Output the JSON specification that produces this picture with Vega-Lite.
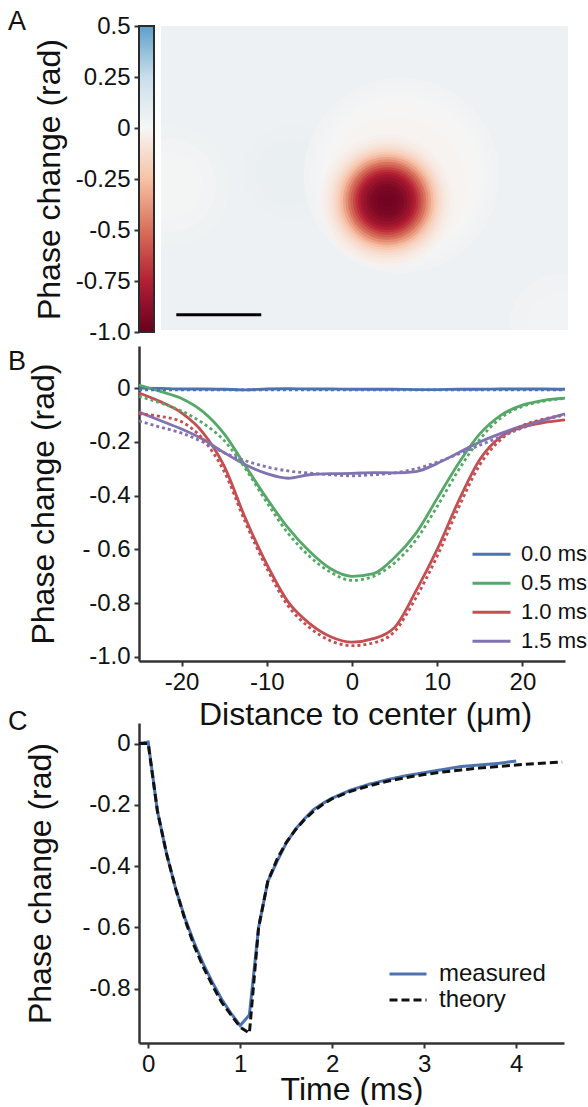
{
  "$schema": "https://vega.github.io/schema/vega-lite/v6.json",
  "background": "white",
  "padding": {"left": 8, "top": 8, "right": 2, "bottom": 0},
  "config": {
    "font": "Liberation Sans",
    "view": {"stroke": null},
    "axis": {"domainColor": "#333333", "domainWidth": 2.5, "tickColor": "#333333", "tickWidth": 2, "tickSize": 5, "labelFontSize": 24, "labelColor": "#111111", "titleFontSize": 32, "titleFontWeight": "normal", "titleColor": "#111111", "grid": false, "labelOverlap": false, "labelPadding": 4},
    "title": {"fontSize": 27, "fontWeight": "normal", "anchor": "start", "frame": "group", "baseline": "alphabetic", "color": "#111111"},
    "legend": {"labelColor": "#111111"}
  },
  "resolve": {"scale": {"color": "independent", "size": "independent", "strokeDash": "independent"}, "legend": {"color": "independent", "strokeDash": "independent"}},
  "datasets": {
    "b": [
      {"x": -25, "s": "0.0 ms", "m": 0, "t": -0.006}, {"x": -22.5, "s": "0.0 ms", "m": -0.001, "t": -0.006}, {"x": -20, "s": "0.0 ms", "m": -0.003, "t": -0.006}, {"x": -17.5, "s": "0.0 ms", "m": -0.003, "t": -0.006}, {"x": -15, "s": "0.0 ms", "m": -0.004, "t": -0.006}, {"x": -12.5, "s": "0.0 ms", "m": -0.006, "t": -0.006}, {"x": -10, "s": "0.0 ms", "m": -0.003, "t": -0.006}, {"x": -7.5, "s": "0.0 ms", "m": -0.002, "t": -0.006}, {"x": -5, "s": "0.0 ms", "m": -0.003, "t": -0.006}, {"x": -2.5, "s": "0.0 ms", "m": -0.003, "t": -0.006}, {"x": 0, "s": "0.0 ms", "m": -0.004, "t": -0.006}, {"x": 2.5, "s": "0.0 ms", "m": -0.004, "t": -0.006}, {"x": 5, "s": "0.0 ms", "m": -0.004, "t": -0.006}, {"x": 7.5, "s": "0.0 ms", "m": -0.005, "t": -0.006}, {"x": 10, "s": "0.0 ms", "m": -0.005, "t": -0.006}, {"x": 12.5, "s": "0.0 ms", "m": -0.004, "t": -0.006}, {"x": 15, "s": "0.0 ms", "m": -0.004, "t": -0.006}, {"x": 17.5, "s": "0.0 ms", "m": -0.003, "t": -0.006}, {"x": 20, "s": "0.0 ms", "m": -0.003, "t": -0.006}, {"x": 22.5, "s": "0.0 ms", "m": -0.003, "t": -0.006}, {"x": 25, "s": "0.0 ms", "m": -0.004, "t": -0.006},
      {"x": -25, "s": "0.5 ms", "m": 0.012, "t": -0.03}, {"x": -22.5, "s": "0.5 ms", "m": -0.012, "t": -0.055}, {"x": -20, "s": "0.5 ms", "m": -0.038, "t": -0.085}, {"x": -17.5, "s": "0.5 ms", "m": -0.087, "t": -0.13}, {"x": -15, "s": "0.5 ms", "m": -0.17, "t": -0.195}, {"x": -12.5, "s": "0.5 ms", "m": -0.29, "t": -0.3}, {"x": -10, "s": "0.5 ms", "m": -0.41, "t": -0.425}, {"x": -7.5, "s": "0.5 ms", "m": -0.52, "t": -0.54}, {"x": -5, "s": "0.5 ms", "m": -0.607, "t": -0.625}, {"x": -2.5, "s": "0.5 ms", "m": -0.672, "t": -0.685}, {"x": 0, "s": "0.5 ms", "m": -0.7, "t": -0.715}, {"x": 2.5, "s": "0.5 ms", "m": -0.69, "t": -0.7}, {"x": 5, "s": "0.5 ms", "m": -0.63, "t": -0.65}, {"x": 7.5, "s": "0.5 ms", "m": -0.54, "t": -0.565}, {"x": 10, "s": "0.5 ms", "m": -0.41, "t": -0.44}, {"x": 12.5, "s": "0.5 ms", "m": -0.28, "t": -0.305}, {"x": 15, "s": "0.5 ms", "m": -0.17, "t": -0.19}, {"x": 17.5, "s": "0.5 ms", "m": -0.1, "t": -0.11}, {"x": 20, "s": "0.5 ms", "m": -0.063, "t": -0.068}, {"x": 22.5, "s": "0.5 ms", "m": -0.045, "t": -0.048}, {"x": 25, "s": "0.5 ms", "m": -0.037, "t": -0.038},
      {"x": -25, "s": "1.0 ms", "m": -0.018, "t": -0.095}, {"x": -22.5, "s": "1.0 ms", "m": -0.05, "t": -0.105}, {"x": -20, "s": "1.0 ms", "m": -0.092, "t": -0.125}, {"x": -17.5, "s": "1.0 ms", "m": -0.165, "t": -0.19}, {"x": -15, "s": "1.0 ms", "m": -0.29, "t": -0.31}, {"x": -12.5, "s": "1.0 ms", "m": -0.485, "t": -0.5}, {"x": -10, "s": "1.0 ms", "m": -0.655, "t": -0.67}, {"x": -7.5, "s": "1.0 ms", "m": -0.795, "t": -0.81}, {"x": -5, "s": "1.0 ms", "m": -0.875, "t": -0.89}, {"x": -2.5, "s": "1.0 ms", "m": -0.925, "t": -0.94}, {"x": 0, "s": "1.0 ms", "m": -0.945, "t": -0.958}, {"x": 2.5, "s": "1.0 ms", "m": -0.932, "t": -0.948}, {"x": 5, "s": "1.0 ms", "m": -0.89, "t": -0.905}, {"x": 7.5, "s": "1.0 ms", "m": -0.755, "t": -0.78}, {"x": 10, "s": "1.0 ms", "m": -0.6, "t": -0.625}, {"x": 12.5, "s": "1.0 ms", "m": -0.42, "t": -0.445}, {"x": 15, "s": "1.0 ms", "m": -0.265, "t": -0.285}, {"x": 17.5, "s": "1.0 ms", "m": -0.18, "t": -0.19}, {"x": 20, "s": "1.0 ms", "m": -0.145, "t": -0.14}, {"x": 22.5, "s": "1.0 ms", "m": -0.128, "t": -0.115}, {"x": 25, "s": "1.0 ms", "m": -0.118, "t": -0.1},
      {"x": -25, "s": "1.5 ms", "m": -0.089, "t": -0.122}, {"x": -22.5, "s": "1.5 ms", "m": -0.12, "t": -0.145}, {"x": -20, "s": "1.5 ms", "m": -0.152, "t": -0.167}, {"x": -17.5, "s": "1.5 ms", "m": -0.19, "t": -0.2}, {"x": -15, "s": "1.5 ms", "m": -0.24, "t": -0.24}, {"x": -12.5, "s": "1.5 ms", "m": -0.285, "t": -0.27}, {"x": -10, "s": "1.5 ms", "m": -0.318, "t": -0.293}, {"x": -7.5, "s": "1.5 ms", "m": -0.335, "t": -0.308}, {"x": -5, "s": "1.5 ms", "m": -0.322, "t": -0.316}, {"x": -2.5, "s": "1.5 ms", "m": -0.318, "t": -0.322}, {"x": 0, "s": "1.5 ms", "m": -0.317, "t": -0.326}, {"x": 2.5, "s": "1.5 ms", "m": -0.314, "t": -0.322}, {"x": 5, "s": "1.5 ms", "m": -0.315, "t": -0.315}, {"x": 7.5, "s": "1.5 ms", "m": -0.31, "t": -0.3}, {"x": 10, "s": "1.5 ms", "m": -0.28, "t": -0.275}, {"x": 12.5, "s": "1.5 ms", "m": -0.24, "t": -0.245}, {"x": 15, "s": "1.5 ms", "m": -0.2, "t": -0.212}, {"x": 17.5, "s": "1.5 ms", "m": -0.168, "t": -0.18}, {"x": 20, "s": "1.5 ms", "m": -0.14, "t": -0.148}, {"x": 22.5, "s": "1.5 ms", "m": -0.118, "t": -0.12}, {"x": 25, "s": "1.5 ms", "m": -0.095, "t": -0.098}
    ],
    "c": [
      {"t": -0.1, "v": 0, "k": "measured"}, {"t": 0, "v": 0.005, "k": "measured"}, {"t": 0.1, "v": -0.22, "k": "measured"}, {"t": 0.2, "v": -0.36, "k": "measured"}, {"t": 0.3, "v": -0.475, "k": "measured"}, {"t": 0.4, "v": -0.57, "k": "measured"}, {"t": 0.5, "v": -0.65, "k": "measured"}, {"t": 0.6, "v": -0.72, "k": "measured"}, {"t": 0.7, "v": -0.78, "k": "measured"}, {"t": 0.8, "v": -0.835, "k": "measured"}, {"t": 0.9, "v": -0.88, "k": "measured"}, {"t": 1.0, "v": -0.92, "k": "measured"}, {"t": 1.1, "v": -0.885, "k": "measured"}, {"t": 1.2, "v": -0.6, "k": "measured"}, {"t": 1.3, "v": -0.45, "k": "measured"}, {"t": 1.4, "v": -0.385, "k": "measured"}, {"t": 1.5, "v": -0.325, "k": "measured"}, {"t": 1.6, "v": -0.28, "k": "measured"}, {"t": 1.7, "v": -0.245, "k": "measured"}, {"t": 1.8, "v": -0.215, "k": "measured"}, {"t": 1.9, "v": -0.195, "k": "measured"}, {"t": 2.0, "v": -0.178, "k": "measured"}, {"t": 2.2, "v": -0.152, "k": "measured"}, {"t": 2.4, "v": -0.133, "k": "measured"}, {"t": 2.6, "v": -0.118, "k": "measured"}, {"t": 2.8, "v": -0.105, "k": "measured"}, {"t": 3.0, "v": -0.095, "k": "measured"}, {"t": 3.2, "v": -0.085, "k": "measured"}, {"t": 3.4, "v": -0.075, "k": "measured"}, {"t": 3.6, "v": -0.07, "k": "measured"}, {"t": 3.8, "v": -0.065, "k": "measured"}, {"t": 4.0, "v": -0.057, "k": "measured"},
      {"t": -0.1, "v": 0, "k": "theory"}, {"t": 0, "v": 0, "k": "theory"}, {"t": 0.1, "v": -0.22, "k": "theory"}, {"t": 0.2, "v": -0.36, "k": "theory"}, {"t": 0.3, "v": -0.475, "k": "theory"}, {"t": 0.4, "v": -0.575, "k": "theory"}, {"t": 0.5, "v": -0.66, "k": "theory"}, {"t": 0.6, "v": -0.73, "k": "theory"}, {"t": 0.7, "v": -0.79, "k": "theory"}, {"t": 0.8, "v": -0.845, "k": "theory"}, {"t": 0.9, "v": -0.885, "k": "theory"}, {"t": 1.0, "v": -0.925, "k": "theory"}, {"t": 1.1, "v": -0.945, "k": "theory"}, {"t": 1.2, "v": -0.6, "k": "theory"}, {"t": 1.3, "v": -0.45, "k": "theory"}, {"t": 1.4, "v": -0.378, "k": "theory"}, {"t": 1.5, "v": -0.323, "k": "theory"}, {"t": 1.6, "v": -0.282, "k": "theory"}, {"t": 1.7, "v": -0.248, "k": "theory"}, {"t": 1.8, "v": -0.22, "k": "theory"}, {"t": 1.9, "v": -0.198, "k": "theory"}, {"t": 2.0, "v": -0.18, "k": "theory"}, {"t": 2.2, "v": -0.156, "k": "theory"}, {"t": 2.4, "v": -0.138, "k": "theory"}, {"t": 2.6, "v": -0.123, "k": "theory"}, {"t": 2.8, "v": -0.111, "k": "theory"}, {"t": 3.0, "v": -0.101, "k": "theory"}, {"t": 3.2, "v": -0.093, "k": "theory"}, {"t": 3.4, "v": -0.086, "k": "theory"}, {"t": 3.6, "v": -0.08, "k": "theory"}, {"t": 3.8, "v": -0.075, "k": "theory"}, {"t": 4.0, "v": -0.07, "k": "theory"}, {"t": 4.2, "v": -0.066, "k": "theory"}, {"t": 4.4, "v": -0.062, "k": "theory"}, {"t": 4.5, "v": -0.06, "k": "theory"}
    ],
    "bg": [{"x0": 0, "x1": 47.9, "y0": 0, "y1": 35.8, "v": 0.05}],
    "spots": [
      {"cx": 15.2, "cy": 18.6, "r": 7, "v": 0.056},
      {"cx": 15.2, "cy": 18.6, "r": 5.5, "v": 0.062},
      {"cx": 15.2, "cy": 18.6, "r": 4, "v": 0.068},
      {"cx": 1.0, "cy": 17, "r": 7, "v": 0.042},
      {"cx": 1.0, "cy": 17, "r": 5.5, "v": 0.033},
      {"cx": 1.0, "cy": 17, "r": 4, "v": 0.024},
      {"cx": 47, "cy": 0.5, "r": 6, "v": 0.04},
      {"cx": 47, "cy": 0.5, "r": 4, "v": 0.028},
      {"cx": 28.3, "cy": 18.2, "r": 11.5, "v": 0.04},
      {"cx": 28.3, "cy": 18.2, "r": 10.8, "v": 0.03},
      {"cx": 28.3, "cy": 18.2, "r": 10.1, "v": 0.02},
      {"cx": 28.3, "cy": 18.2, "r": 9.4, "v": 0.01},
      {"cx": 28.0, "cy": 17.6, "r": 8.8, "v": -0.003},
      {"cx": 27.6, "cy": 16.8, "r": 8.3, "v": -0.016},
      {"cx": 26.6, "cy": 15.2, "r": 7.8, "v": -0.03},
      {"cx": 26.6, "cy": 15.2, "r": 7.4, "v": -0.045},
      {"cx": 26.6, "cy": 15.2, "r": 7.0, "v": -0.065},
      {"cx": 26.6, "cy": 15.2, "r": 6.7, "v": -0.09},
      {"cx": 26.6, "cy": 15.2, "r": 6.4, "v": -0.12},
      {"cx": 26.6, "cy": 15.2, "r": 6.1, "v": -0.16},
      {"cx": 26.6, "cy": 15.2, "r": 5.8, "v": -0.21},
      {"cx": 26.6, "cy": 15.2, "r": 5.5, "v": -0.27},
      {"cx": 26.6, "cy": 15.2, "r": 5.2, "v": -0.34},
      {"cx": 26.6, "cy": 15.2, "r": 4.9, "v": -0.41},
      {"cx": 26.6, "cy": 15.2, "r": 4.6, "v": -0.49},
      {"cx": 26.6, "cy": 15.2, "r": 4.3, "v": -0.56},
      {"cx": 26.6, "cy": 15.2, "r": 4.0, "v": -0.63},
      {"cx": 26.6, "cy": 15.2, "r": 3.7, "v": -0.7},
      {"cx": 26.6, "cy": 15.2, "r": 3.4, "v": -0.76},
      {"cx": 26.6, "cy": 15.2, "r": 3.1, "v": -0.81},
      {"cx": 26.6, "cy": 15.2, "r": 2.8, "v": -0.85},
      {"cx": 26.6, "cy": 15.2, "r": 2.4, "v": -0.89},
      {"cx": 26.6, "cy": 15.2, "r": 2.0, "v": -0.92},
      {"cx": 26.6, "cy": 15.2, "r": 1.6, "v": -0.94},
      {"cx": 26.6, "cy": 15.2, "r": 1.2, "v": -0.955},
      {"cx": 26.6, "cy": 15.2, "r": 0.7, "v": -0.965}
    ],
    "bar": [{"x0": 1.8, "x1": 11.8, "y": 1.8}],
    "cbar": [{"lo": -1, "hi": 0.5}]
  },
  "vconcat": [
    {
      "hconcat": [
        {
          "width": 15,
          "height": 306,
          "title": {"text": "A", "dx": -131, "offset": -22},
          "data": {"name": "cbar"},
          "mark": {
            "type": "rect",
            "stroke": "#2b2b2b",
            "strokeWidth": 2,
            "fill": {
              "gradient": "linear", "x1": 0, "y1": 1, "x2": 0, "y2": 0,
              "stops": [
                {"offset": 0, "color": "#67001f"},
                {"offset": 0.16667, "color": "#b51f33"},
                {"offset": 0.33333, "color": "#d8705a"},
                {"offset": 0.5, "color": "#f7c2a6"},
                {"offset": 0.66667, "color": "#f7f6f5"},
                {"offset": 0.83333, "color": "#c9deeb"},
                {"offset": 1, "color": "#5d9fcb"}
              ]
            }
          },
          "encoding": {
            "y": {
              "field": "lo", "type": "quantitative",
              "scale": {"domain": [-1, 0.5], "nice": false, "zero": false},
              "axis": {
                "values": [0.5, 0.25, 0, -0.25, -0.5, -0.75, -1],
                "labelExpr": "datum.value == -1 ? '-1.0' : datum.value == 0 ? '0' : (datum.value < 0 ? '-' : '') + format(abs(datum.value), '~g')",
                "domain": false,
                "title": "Phase change (rad)",
                "titlePadding": 9
              }
            },
            "y2": {"field": "hi"}
          }
        },
        {
          "width": 407,
          "height": 304,
          "layer": [
            {
              "data": {"name": "bg"},
              "mark": {"type": "rect"},
              "encoding": {
                "x": {"field": "x0", "type": "quantitative", "scale": {"domain": [0, 47.9], "nice": false, "zero": false}, "axis": null},
                "x2": {"field": "x1"},
                "y": {"field": "y0", "type": "quantitative", "scale": {"domain": [0, 35.8], "nice": false, "zero": false}, "axis": null},
                "y2": {"field": "y1"},
                "color": {
                  "field": "v", "type": "quantitative",
                  "scale": {"domain": [-1, -0.75, -0.5, -0.25, 0, 0.25, 0.5], "range": ["#67001f", "#b51f33", "#d8705a", "#f7c2a6", "#f7f6f5", "#c9deeb", "#5d9fcb"], "interpolate": "rgb"},
                  "legend": null
                }
              }
            },
            {
              "data": {"name": "spots"},
              "mark": {"type": "point", "shape": "circle", "filled": true, "opacity": 1, "strokeWidth": 0, "clip": true},
              "encoding": {
                "x": {"field": "cx", "type": "quantitative"},
                "y": {"field": "cy", "type": "quantitative"},
                "size": {"field": "r", "type": "quantitative", "scale": {"type": "pow", "exponent": 2, "domain": [0, 12], "range": [0, 41616]}, "legend": null},
                "color": {"field": "v", "type": "quantitative", "legend": null}
              }
            },
            {
              "data": {"name": "bar"},
              "mark": {"type": "rule", "strokeWidth": 3, "color": "#000000"},
              "encoding": {
                "x": {"field": "x0", "type": "quantitative"},
                "x2": {"field": "x1"},
                "y": {"field": "y", "type": "quantitative"}
              }
            }
          ]
        }
      ],
      "spacing": 7,
      "bounds": "flush"
    },
    {
      "resolve": {"scale": {"color": "independent", "strokeDash": "independent"}, "legend": {"color": "independent", "strokeDash": "independent"}},
      "vconcat": [
        {
          "width": 426,
          "height": 315,
          "title": {"text": "B", "dx": -131, "offset": -30},
          "data": {"name": "b"},
          "layer": [
            {
              "mark": {"type": "line", "strokeWidth": 2.8, "interpolate": "monotone"},
              "encoding": {
                "x": {
                  "field": "x", "type": "quantitative",
                  "scale": {"domain": [-25, 25], "nice": false, "zero": false},
                  "axis": {"values": [-20, -10, 0, 10, 20], "labelExpr": "(datum.value < 0 ? '-' : '') + format(abs(datum.value), 'd')"},
                  "title": null
                },
                "y": {
                  "field": "m", "type": "quantitative",
                  "scale": {"domain": [-1.015, 0.157], "nice": false, "zero": false},
                  "axis": {"values": [0, -0.2, -0.4, -0.6, -0.8, -1], "labelExpr": "datum.value == -0.6 ? '- 0.6' : datum.value == -1 ? '-1.0' : datum.value == 0 ? '0' : '-' + format(-datum.value, '.1f')", "titlePadding": 21},
                  "title": "Phase change (rad)"
                },
                "color": {
                  "field": "s", "type": "nominal",
                  "scale": {"domain": ["0.0 ms", "0.5 ms", "1.0 ms", "1.5 ms"], "range": ["#4c72b0", "#55a868", "#c44e52", "#8172b2"]},
                  "legend": {"title": null, "orient": "none", "legendX": 332, "legendY": 194, "symbolType": "stroke", "symbolStrokeWidth": 3, "symbolSize": 1444, "labelFontSize": 22, "clipHeight": 28.5, "rowPadding": 0, "labelOffset": 9, "padding": 0}
                }
              }
            },
            {
              "mark": {"type": "line", "strokeWidth": 2.8, "strokeDash": [3, 3], "interpolate": "monotone"},
              "encoding": {
                "x": {"field": "x", "type": "quantitative", "title": null},
                "y": {"field": "t", "type": "quantitative", "title": "Phase change (rad)"},
                "color": {"field": "s", "type": "nominal"}
              }
            }
          ]
        },
        {
          "width": 425,
          "height": 320,
          "title": {"text": "C", "dx": -131, "offset": -38},
          "data": {"name": "c"},
          "resolve": {"axis": {"x": "independent"}},
          "layer": [
            {
              "mark": {"type": "line", "strokeWidth": 3},
              "encoding": {
                "x": {
                  "field": "t", "type": "quantitative",
                  "scale": {"domain": [-0.1, 4.52], "nice": false, "zero": false},
                  "axis": {"values": [0, 1, 2, 3, 4], "titlePadding": -2},
                  "title": "Time (ms)"
                },
                "y": {
                  "field": "v", "type": "quantitative",
                  "scale": {"domain": [-0.977, 0.067], "nice": false, "zero": false},
                  "axis": {"values": [0, -0.2, -0.4, -0.6, -0.8], "labelExpr": "datum.value == -0.6 ? '- 0.6' : datum.value == 0 ? '0' : '-' + format(-datum.value, '.1f')", "titlePadding": 24},
                  "title": "Phase change (rad)"
                },
                "color": {
                  "field": "k", "type": "nominal",
                  "scale": {"domain": ["measured", "theory"], "range": ["#4c72b0", "#111111"]},
                  "legend": {"title": null, "orient": "none", "legendX": 249, "legendY": 238, "symbolType": "stroke", "symbolStrokeWidth": 3, "symbolSize": 1369, "labelFontSize": 24, "clipHeight": 26, "rowPadding": 0, "labelOffset": 11, "padding": 0}
                },
                "strokeDash": {
                  "field": "k", "type": "nominal",
                  "scale": {"domain": ["measured", "theory"], "range": [[1, 0], [8, 4]]},
                  "legend": {"title": null, "orient": "none", "legendX": 249, "legendY": 238, "symbolType": "stroke", "symbolStrokeWidth": 3, "symbolSize": 1369, "labelFontSize": 24, "clipHeight": 26, "rowPadding": 0, "labelOffset": 11, "padding": 0}
                }
              }
            },
            {
              "mark": {"type": "line", "opacity": 0},
              "encoding": {
                "x": {
                  "field": "t", "type": "quantitative",
                  "axis": {"orient": "top", "labels": false, "ticks": false, "domain": false, "titleBaseline": "alphabetic", "titlePadding": -1, "titleX": 226},
                  "title": "Distance to center (μm)"
                },
                "y": {"field": "v", "type": "quantitative", "title": "Phase change (rad)"},
                "detail": {"field": "k", "type": "nominal"}
              }
            }
          ]
        }
      ],
      "spacing": 4
    }
  ],
  "spacing": 2
}
